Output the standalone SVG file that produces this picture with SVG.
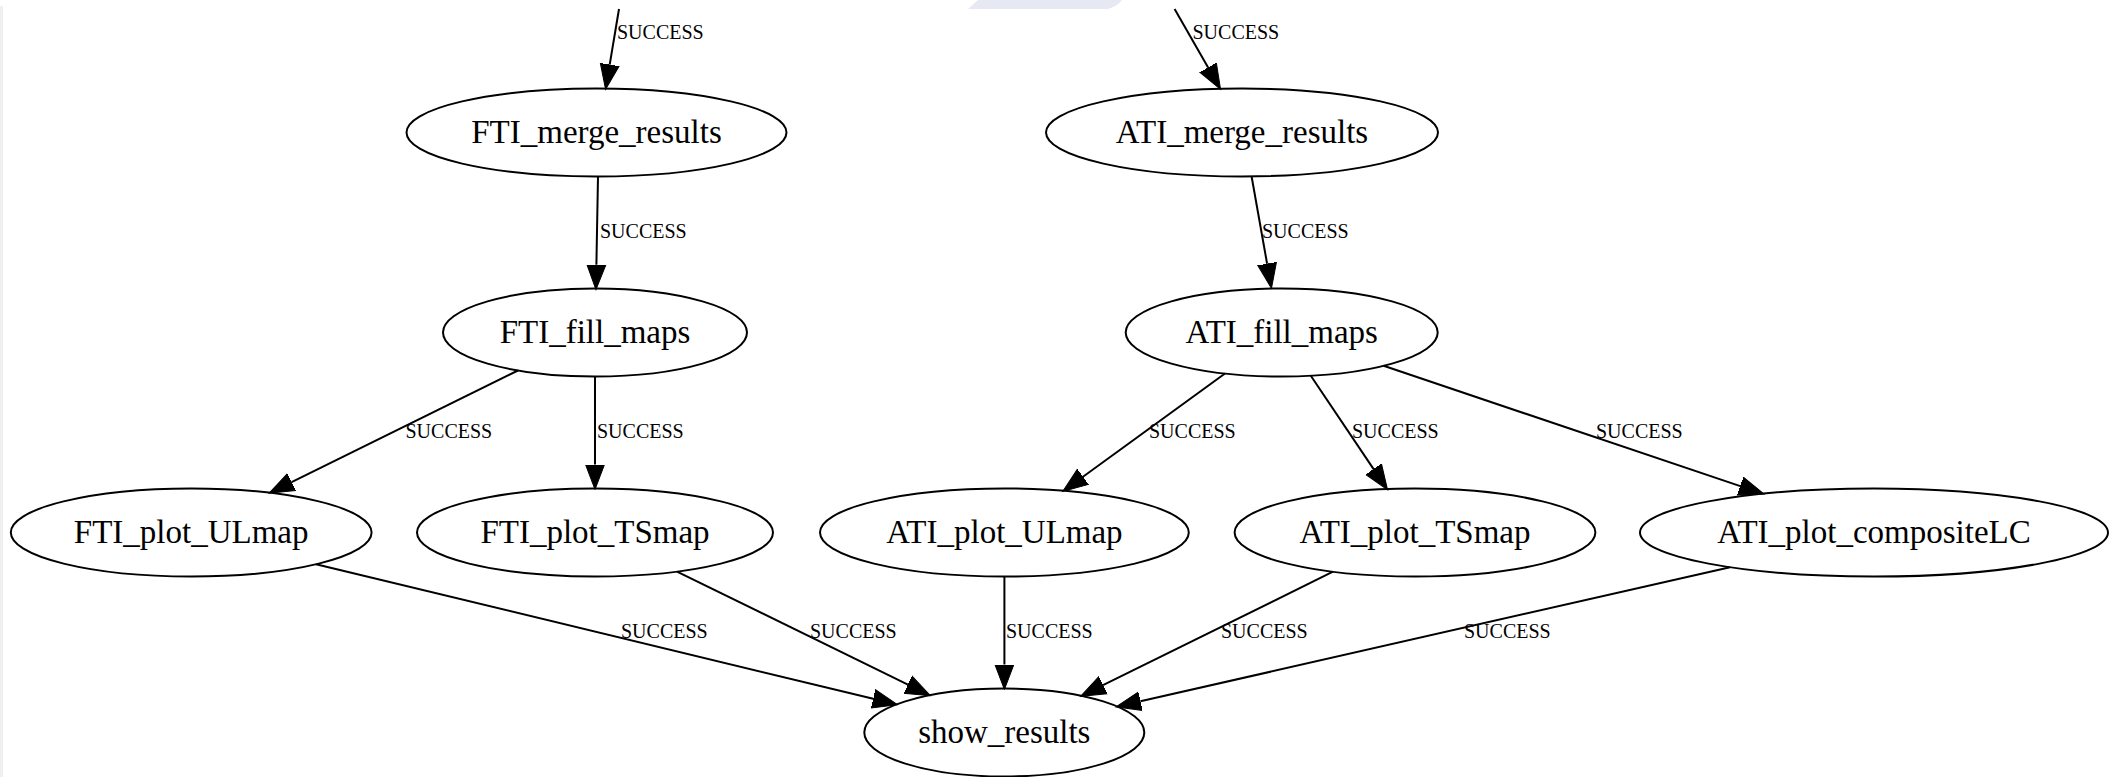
<svg xmlns="http://www.w3.org/2000/svg" width="2111" height="777" viewBox="0 0 2111 777">
<style>
.node ellipse{fill:none;stroke:#000;stroke-width:2}
.node text{font-family:"Liberation Serif","Times New Roman",serif;font-size:33px;text-anchor:middle;fill:#000}
.edge line{stroke:#000;stroke-width:2}
.lbl{font-family:"Liberation Serif","Times New Roman",serif;font-size:20px;fill:#000}
</style>
<defs>
<marker id="arr" markerUnits="userSpaceOnUse" markerWidth="28" markerHeight="24" refX="0" refY="10" orient="auto" viewBox="0 0 28 20">
<path d="M0,0.5 L25,10 L0,19.5 z" fill="#000" stroke="#000" stroke-width="1"/>
</marker>
</defs>
<rect x="0" y="0" width="2111" height="777" fill="#fff"/>
<rect x="0" y="6" width="3" height="771" fill="#efefef"/>
<path d="M978,0 L1122,0 Q1118,6 1108,9 L968,9 Z" fill="#e6e9f3"/>
<g id="edges" class="edge">
<line x1="619" y1="9" x2="609.7" y2="64.6" marker-end="url(#arr)"/>
<line x1="1174.6" y1="9" x2="1208.1" y2="67.5" marker-end="url(#arr)"/>
<line x1="598" y1="176.5" x2="596.4" y2="264.7" marker-end="url(#arr)"/>
<line x1="1251.6" y1="176.5" x2="1267.1" y2="263.7" marker-end="url(#arr)"/>
<line x1="518" y1="370.5" x2="291.6" y2="482.1" marker-end="url(#arr)"/>
<line x1="595" y1="376.5" x2="595" y2="464.5" marker-end="url(#arr)"/>
<line x1="1225" y1="373.5" x2="1083" y2="476.7" marker-end="url(#arr)"/>
<line x1="1310.8" y1="375.7" x2="1373.6" y2="469.1" marker-end="url(#arr)"/>
<line x1="1383.6" y1="365.8" x2="1740.3" y2="486.1" marker-end="url(#arr)"/>
<line x1="316" y1="564.2" x2="873.2" y2="698.8" marker-end="url(#arr)"/>
<line x1="677" y1="571.6" x2="907.9" y2="684.7" marker-end="url(#arr)"/>
<line x1="1004.4" y1="576.5" x2="1004.4" y2="664.5" marker-end="url(#arr)"/>
<line x1="1333" y1="571.7" x2="1103" y2="685.2" marker-end="url(#arr)"/>
<line x1="1730" y1="567.2" x2="1140.4" y2="701.3" marker-end="url(#arr)"/>
<text class="lbl" x="617" y="39">SUCCESS</text>
<text class="lbl" x="1192.5" y="39">SUCCESS</text>
<text class="lbl" x="600" y="238">SUCCESS</text>
<text class="lbl" x="1262" y="237.5">SUCCESS</text>
<text class="lbl" x="405.5" y="438">SUCCESS</text>
<text class="lbl" x="597" y="438">SUCCESS</text>
<text class="lbl" x="1149" y="438">SUCCESS</text>
<text class="lbl" x="1352" y="438">SUCCESS</text>
<text class="lbl" x="1596" y="438">SUCCESS</text>
<text class="lbl" x="621" y="638">SUCCESS</text>
<text class="lbl" x="810" y="638">SUCCESS</text>
<text class="lbl" x="1006" y="638">SUCCESS</text>
<text class="lbl" x="1221" y="638">SUCCESS</text>
<text class="lbl" x="1464" y="638">SUCCESS</text>
</g>
<g id="FTI_merge_results" class="node"><ellipse cx="596.5" cy="132.5" rx="190" ry="44"/><text x="596.5" y="142.5">FTI_merge_results</text></g>
<g id="ATI_merge_results" class="node"><ellipse cx="1242" cy="132.5" rx="196" ry="44"/><text x="1242" y="142.5">ATI_merge_results</text></g>
<g id="FTI_fill_maps" class="node"><ellipse cx="595" cy="332.5" rx="152" ry="44"/><text x="595" y="342.5">FTI_fill_maps</text></g>
<g id="ATI_fill_maps" class="node"><ellipse cx="1281.7" cy="332.5" rx="156" ry="44"/><text x="1281.7" y="342.5">ATI_fill_maps</text></g>
<g id="FTI_plot_ULmap" class="node"><ellipse cx="191.2" cy="532.5" rx="180.4" ry="44"/><text x="191.2" y="542.5">FTI_plot_ULmap</text></g>
<g id="FTI_plot_TSmap" class="node"><ellipse cx="595" cy="532.5" rx="178" ry="44"/><text x="595" y="542.5">FTI_plot_TSmap</text></g>
<g id="ATI_plot_ULmap" class="node"><ellipse cx="1004.4" cy="532.5" rx="184.4" ry="44"/><text x="1004.4" y="542.5">ATI_plot_ULmap</text></g>
<g id="ATI_plot_TSmap" class="node"><ellipse cx="1415" cy="532.5" rx="180.4" ry="44"/><text x="1415" y="542.5">ATI_plot_TSmap</text></g>
<g id="ATI_plot_compositeLC" class="node"><ellipse cx="1874" cy="532.5" rx="234" ry="44"/><text x="1874" y="542.5">ATI_plot_compositeLC</text></g>
<g id="show_results" class="node"><ellipse cx="1004.3" cy="732.5" rx="140" ry="44"/><text x="1004.3" y="742.5">show_results</text></g>
</svg>
